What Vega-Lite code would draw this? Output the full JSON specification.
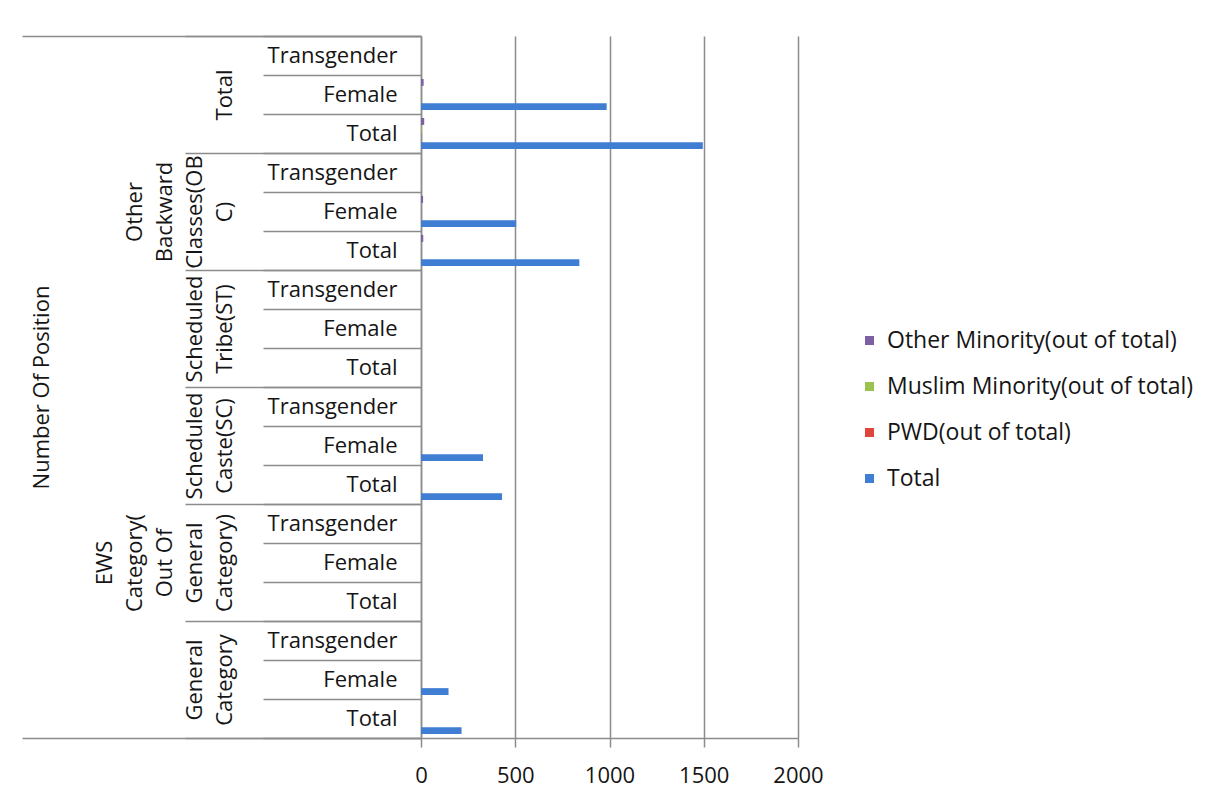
{
  "$schema": "https://vega.github.io/schema/vega-lite/v6.json",
  "width": 377,
  "height": 702,
  "autosize": {"type": "none"},
  "padding": {"left": 421, "top": 36, "right": 423, "bottom": 66},
  "background": "white",
  "config": {
    "view": {"stroke": null},
    "font": "Open Sans",
    "axis": {"labelFont": "Open Sans", "titleFont": "Open Sans"},
    "legend": {"labelFont": "Open Sans"}
  },
  "data": {
    "values": [
      {"group": "Total", "sub": "Transgender", "series": "Total", "value": 0},
      {"group": "Total", "sub": "Transgender", "series": "PWD(out of total)", "value": 0},
      {"group": "Total", "sub": "Transgender", "series": "Muslim Minority(out of total)", "value": 0},
      {"group": "Total", "sub": "Transgender", "series": "Other Minority(out of total)", "value": 0},
      {"group": "Total", "sub": "Female", "series": "Total", "value": 985},
      {"group": "Total", "sub": "Female", "series": "PWD(out of total)", "value": 0},
      {"group": "Total", "sub": "Female", "series": "Muslim Minority(out of total)", "value": 0},
      {"group": "Total", "sub": "Female", "series": "Other Minority(out of total)", "value": 14},
      {"group": "Total", "sub": "Total", "series": "Total", "value": 1495},
      {"group": "Total", "sub": "Total", "series": "PWD(out of total)", "value": 0},
      {"group": "Total", "sub": "Total", "series": "Muslim Minority(out of total)", "value": 4},
      {"group": "Total", "sub": "Total", "series": "Other Minority(out of total)", "value": 17},
      {"group": "Other Backward Classes(OBC)", "sub": "Transgender", "series": "Total", "value": 0},
      {"group": "Other Backward Classes(OBC)", "sub": "Transgender", "series": "PWD(out of total)", "value": 0},
      {"group": "Other Backward Classes(OBC)", "sub": "Transgender", "series": "Muslim Minority(out of total)", "value": 0},
      {"group": "Other Backward Classes(OBC)", "sub": "Transgender", "series": "Other Minority(out of total)", "value": 0},
      {"group": "Other Backward Classes(OBC)", "sub": "Female", "series": "Total", "value": 505},
      {"group": "Other Backward Classes(OBC)", "sub": "Female", "series": "PWD(out of total)", "value": 0},
      {"group": "Other Backward Classes(OBC)", "sub": "Female", "series": "Muslim Minority(out of total)", "value": 0},
      {"group": "Other Backward Classes(OBC)", "sub": "Female", "series": "Other Minority(out of total)", "value": 11},
      {"group": "Other Backward Classes(OBC)", "sub": "Total", "series": "Total", "value": 840},
      {"group": "Other Backward Classes(OBC)", "sub": "Total", "series": "PWD(out of total)", "value": 0},
      {"group": "Other Backward Classes(OBC)", "sub": "Total", "series": "Muslim Minority(out of total)", "value": 0},
      {"group": "Other Backward Classes(OBC)", "sub": "Total", "series": "Other Minority(out of total)", "value": 12},
      {"group": "Scheduled Tribe(ST)", "sub": "Transgender", "series": "Total", "value": 0},
      {"group": "Scheduled Tribe(ST)", "sub": "Female", "series": "Total", "value": 0},
      {"group": "Scheduled Tribe(ST)", "sub": "Total", "series": "Total", "value": 0},
      {"group": "Scheduled Caste(SC)", "sub": "Transgender", "series": "Total", "value": 0},
      {"group": "Scheduled Caste(SC)", "sub": "Female", "series": "Total", "value": 329},
      {"group": "Scheduled Caste(SC)", "sub": "Total", "series": "Total", "value": 430},
      {"group": "EWS Category( Out Of General Category)", "sub": "Transgender", "series": "Total", "value": 0},
      {"group": "EWS Category( Out Of General Category)", "sub": "Female", "series": "Total", "value": 0},
      {"group": "EWS Category( Out Of General Category)", "sub": "Total", "series": "Total", "value": 0},
      {"group": "General Category", "sub": "Transgender", "series": "Total", "value": 0},
      {"group": "General Category", "sub": "Female", "series": "Total", "value": 146},
      {"group": "General Category", "sub": "Total", "series": "Total", "value": 215}
    ]
  },
  "transform": [{"calculate": "datum.group + '|' + datum.sub", "as": "key"}],
  "resolve": {"scale": {"y": "independent"}, "axis": {"y": "independent"}},
  "layer": [
    {
      "mark": {"type": "point", "opacity": 0},
      "encoding": {
        "y": {
          "datum": "all",
          "type": "nominal",
          "scale": {"type": "band", "paddingInner": 0, "paddingOuter": 0},
          "axis": {
            "orient": "left",
            "title": "Number Of Position",
            "titleFontSize": 22,
            "titleFontWeight": "normal",
            "titleColor": "#151515",
            "titleX": -368,
            "titleY": 351,
            "titleAngle": 270,
            "titleAlign": "center",
            "titleBaseline": "bottom",
            "domain": false,
            "labels": false,
            "grid": false,
            "ticks": true,
            "tickBand": "extent",
            "tickSize": 399,
            "tickColor": "#8c8c8c",
            "tickWidth": 1.5
          }
        }
      }
    },
    {
      "mark": {"type": "point", "opacity": 0},
      "encoding": {
        "y": {
          "field": "group",
          "type": "nominal",
          "scale": {
            "type": "band",
            "paddingInner": 0,
            "paddingOuter": 0,
            "domain": ["Total", "Other Backward Classes(OBC)", "Scheduled Tribe(ST)", "Scheduled Caste(SC)", "EWS Category( Out Of General Category)", "General Category"]
          },
          "axis": {
            "orient": "left",
            "title": null,
            "domain": false,
            "grid": false,
            "ticks": true,
            "tickBand": "extent",
            "tickSize": 236,
            "tickColor": "#8c8c8c",
            "tickWidth": 1.5,
            "labelAngle": 270,
            "labelAlign": "center",
            "labelBaseline": "bottom",
            "labelPadding": {
              "condition": [
                {"test": "datum.value == 'Other Backward Classes(OBC)'", "value": 39},
                {"test": "datum.value == 'EWS Category( Out Of General Category)'", "value": 69},
                {"test": "datum.value == 'Total'", "value": -51}
              ],
              "value": -21
            },
            "labelLineHeight": 30,
            "labelFontSize": 22,
            "labelColor": "#151515",
            "labelLimit": 400,
            "labelOverlap": false,
            "labelExpr": "datum.value == 'Other Backward Classes(OBC)' ? ['Other','Backward','Classes(OB','C)'] : datum.value == 'Scheduled Tribe(ST)' ? ['Scheduled','Tribe(ST)'] : datum.value == 'Scheduled Caste(SC)' ? ['Scheduled','Caste(SC)'] : datum.value == 'EWS Category( Out Of General Category)' ? ['EWS','Category(','Out Of','General','Category)'] : datum.value == 'General Category' ? ['General','Category'] : datum.value"
          }
        }
      }
    },
    {
      "mark": {"type": "bar"},
      "encoding": {
        "y": {
          "field": "key",
          "type": "nominal",
          "scale": {
            "paddingInner": 0,
            "paddingOuter": 0,
            "domain": [
              "Total|Transgender", "Total|Female", "Total|Total",
              "Other Backward Classes(OBC)|Transgender", "Other Backward Classes(OBC)|Female", "Other Backward Classes(OBC)|Total",
              "Scheduled Tribe(ST)|Transgender", "Scheduled Tribe(ST)|Female", "Scheduled Tribe(ST)|Total",
              "Scheduled Caste(SC)|Transgender", "Scheduled Caste(SC)|Female", "Scheduled Caste(SC)|Total",
              "EWS Category( Out Of General Category)|Transgender", "EWS Category( Out Of General Category)|Female", "EWS Category( Out Of General Category)|Total",
              "General Category|Transgender", "General Category|Female", "General Category|Total"
            ]
          },
          "axis": {
            "orient": "left",
            "title": null,
            "domain": true,
            "domainColor": "#8c8c8c",
            "domainWidth": 1.5,
            "grid": false,
            "ticks": true,
            "tickBand": "extent",
            "tickSize": 158,
            "tickColor": "#8c8c8c",
            "tickWidth": 1.5,
            "labelExpr": "split(datum.value, '|')[1]",
            "labelAlign": "right",
            "labelBaseline": "middle",
            "labelPadding": -134,
            "labelFontSize": 22,
            "labelColor": "#151515",
            "labelOverlap": false
          }
        },
        "yOffset": {
          "field": "series",
          "type": "nominal",
          "scale": {
            "domain": ["Other Minority(out of total)", "Muslim Minority(out of total)", "PWD(out of total)", "Total"],
            "paddingInner": 0.15,
            "paddingOuter": 0.5
          }
        },
        "x": {
          "field": "value",
          "type": "quantitative",
          "stack": null,
          "scale": {"domain": [0, 2000], "nice": false},
          "axis": {
            "title": null,
            "values": [0, 500, 1000, 1500, 2000],
            "format": "d",
            "grid": true,
            "gridColor": "#8c8c8c",
            "gridWidth": 1.5,
            "domainColor": "#8c8c8c",
            "domainWidth": 1.5,
            "tickColor": "#8c8c8c",
            "tickWidth": 1.5,
            "tickSize": 9,
            "labelFontSize": 22,
            "labelColor": "#151515",
            "labelPadding": 18,
            "labelFlush": false
          }
        },
        "color": {
          "field": "series",
          "type": "nominal",
          "scale": {
            "domain": ["Other Minority(out of total)", "Muslim Minority(out of total)", "PWD(out of total)", "Total"],
            "range": ["#7d60a3", "#9bc24f", "#e0453c", "#3f7ed3"]
          },
          "legend": {
            "title": null,
            "orient": "none",
            "legendX": 437,
            "legendY": 293,
            "padding": 0,
            "symbolType": "square",
            "symbolSize": 81,
            "symbolStrokeWidth": 0,
            "labelFontSize": 23,
            "labelColor": "#151515",
            "labelOffset": 6,
            "rowPadding": 22,
            "labelLimit": 400
          }
        }
      }
    }
  ]
}
